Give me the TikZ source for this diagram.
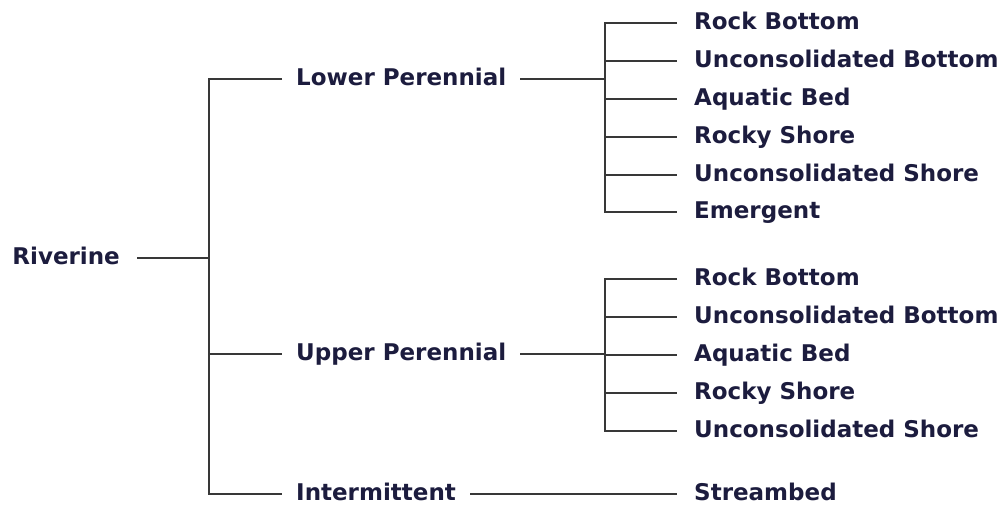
\documentclass[tikz,border=0pt]{standalone}
\usepackage{fontspec}
\setmainfont{DejaVu Sans}
\definecolor{txtnavy}{HTML}{1C1C3E}
\definecolor{linegray}{HTML}{383838}
\begin{document}
\begin{tikzpicture}[x=1pt,y=-1pt,
  lbl/.style={font=\fontsize{23}{28}\selectfont\bfseries, text=txtnavy,
    inner ysep=0pt, text height=16.8pt, text depth=4pt},
  leaf/.style={lbl, anchor=west, inner xsep=17pt},
  mid/.style={lbl, anchor=west, inner xsep=14pt},
  conn/.style={draw=linegray, line width=2pt}]
\useasboundingbox (0,0) rectangle (1003,508);
% root
\node[lbl, anchor=east, inner xsep=17pt] (rv) at (137,258) {Riverine};
% middle level
\node[mid] (lp) at (282,79) {Lower Perennial};
\node[mid] (up) at (282,354) {Upper Perennial};
\node[mid] (im) at (282,494) {Intermittent};
% leaves of Lower Perennial
\node[leaf] (l1) at (677,23) {Rock Bottom};
\node[leaf] (l2) at (677,61) {Unconsolidated Bottom};
\node[leaf] (l3) at (677,99) {Aquatic Bed};
\node[leaf] (l4) at (677,137) {Rocky Shore};
\node[leaf] (l5) at (677,175) {Unconsolidated Shore};
\node[leaf] (l6) at (677,212) {Emergent};
% leaves of Upper Perennial
\node[leaf] (u1) at (677,279) {Rock Bottom};
\node[leaf] (u2) at (677,317) {Unconsolidated Bottom};
\node[leaf] (u3) at (677,355) {Aquatic Bed};
\node[leaf] (u4) at (677,393) {Rocky Shore};
\node[leaf] (u5) at (677,431) {Unconsolidated Shore};
% leaf of Intermittent
\node[leaf] (s1) at (677,494) {Streambed};
% junction points
\coordinate (rj) at (209,258);
\coordinate (ljt) at (605,23);
\coordinate (ljb) at (605,212);
\coordinate (ujt) at (605,279);
\coordinate (ujb) at (605,431);
% root connectors
\draw[conn] (rv.east) -- (rj);
\draw[conn] (lp.west) -- (lp.west -| rj) -- (im.west -| rj) -- (im.west);
\draw[conn] (up.west -| rj) -- (up.west);
% Lower Perennial connectors
\draw[conn] (lp.east) -- (lp.east -| ljt);
\draw[conn] (l1.west) -- (ljt) -- (ljb) -- (l6.west);
\foreach \n in {l2,l3,l4,l5} \draw[conn] (\n.west -| ljt) -- (\n.west);
% Upper Perennial connectors
\draw[conn] (up.east) -- (up.east -| ujt);
\draw[conn] (u1.west) -- (ujt) -- (ujb) -- (u5.west);
\foreach \n in {u2,u3,u4} \draw[conn] (\n.west -| ujt) -- (\n.west);
% Intermittent connector
\draw[conn] (im.east) -- (s1.west);
\end{tikzpicture}
\end{document}
